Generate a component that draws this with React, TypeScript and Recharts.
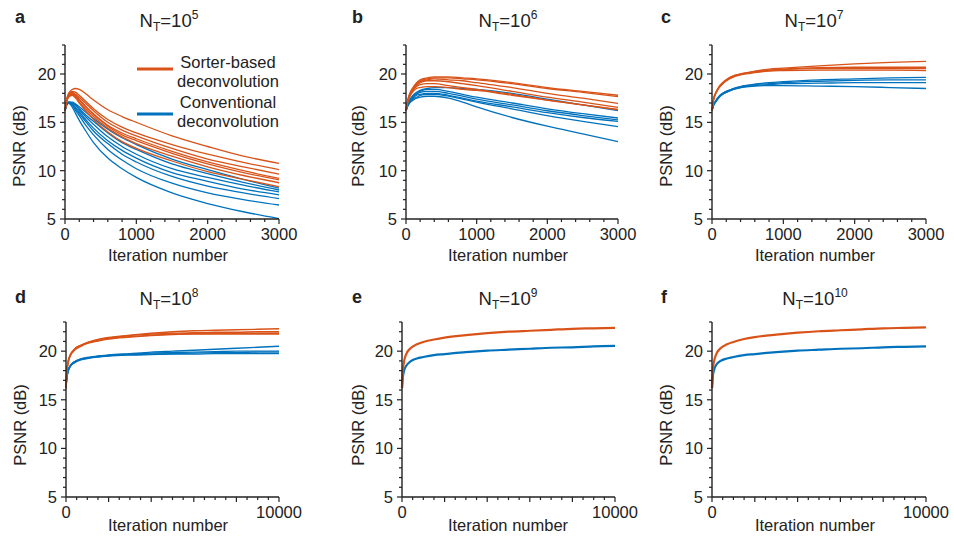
import { Line, LineChart, XAxis, YAxis } from "recharts";

const ORANGE = "#D95319";
const BLUE = "#0072BD";
const INK = "#222";
const FONT = "'Liberation Sans', Arial, sans-serif";

// iteration grids
const itersShort = [0, 25, 50, 100, 150, 200, 300, 400, 600, 800, 1000, 1500, 2000, 2500, 3000];
const itersLong = [0, 25, 50, 100, 200, 400, 700, 1000, 1500, 2000, 3000, 4000, 5000, 6000, 7000, 8000, 9000, 10000];

// tick values
const yTicks = [5, 6, 7, 8, 9, 10, 11, 12, 13, 14, 15, 16, 17, 18, 19, 20, 21, 22, 23];
const yLabels = [5, 10, 15, 20];
const xTicksShort = [0, 200, 400, 600, 800, 1000, 1200, 1400, 1600, 1800, 2000, 2200, 2400, 2600, 2800, 3000];
const xMajorShort = [0, 1000, 2000, 3000];
const xLabelsShort = [0, 1000, 2000, 3000];
const xTicksLong = [0, 500, 1000, 1500, 2000, 2500, 3000, 3500, 4000, 4500, 5000, 5500, 6000, 6500, 7000, 7500, 8000, 8500, 9000, 9500, 10000];
const xMajorLong = [0, 2000, 4000, 6000, 8000, 10000];
const xLabelsLong = [0, 10000];

// a: N_T = 1e5
const aOrange = [
  [16.2, 17.4, 18.0, 18.4, 18.5, 18.4, 17.9, 17.3, 16.3, 15.6, 15.0, 13.6, 12.5, 11.5, 10.75],
  [16.2, 17.4, 17.9, 18.2, 18.1, 17.8, 17.1, 16.4, 15.3, 14.5, 13.9, 12.7, 11.7, 10.85, 10.1],
  [16.2, 17.3, 17.8, 18.1, 17.9, 17.6, 16.9, 16.2, 15.0, 14.2, 13.6, 12.3, 11.2, 10.4, 9.65],
  [16.2, 17.3, 17.8, 18.0, 17.8, 17.4, 16.6, 15.9, 14.7, 13.9, 13.3, 12.0, 10.9, 10.0, 9.2],
  [16.2, 17.3, 17.7, 17.9, 17.7, 17.3, 16.5, 15.8, 14.6, 13.7, 13.1, 11.8, 10.7, 9.8, 9.05],
  [16.2, 17.2, 17.7, 17.9, 17.6, 17.1, 16.3, 15.6, 14.4, 13.5, 12.8, 11.5, 10.4, 9.5, 8.75],
  [16.2, 17.2, 17.6, 17.8, 17.5, 17.0, 16.1, 15.3, 14.0, 13.0, 12.3, 11.0, 9.9, 9.1, 8.35],
];
const aBlue = [
  [16.2, 16.9, 17.1, 17.1, 16.9, 16.6, 16.0, 15.4, 14.3, 13.4, 12.7, 11.2, 10.1, 9.1, 8.2],
  [16.2, 16.9, 17.1, 17.0, 16.8, 16.4, 15.7, 15.1, 13.9, 12.9, 12.2, 10.7, 9.7, 8.8, 8.0],
  [16.2, 16.9, 17.1, 17.0, 16.7, 16.3, 15.5, 14.8, 13.5, 12.5, 11.7, 10.2, 9.3, 8.5, 7.8],
  [16.2, 16.9, 17.0, 16.9, 16.5, 16.1, 15.2, 14.4, 13.1, 12.1, 11.3, 9.8, 8.9, 8.1, 7.5],
  [16.2, 16.9, 17.0, 16.9, 16.4, 15.9, 15.0, 14.1, 12.8, 11.7, 10.9, 9.4, 8.4, 7.7, 7.1],
  [16.2, 16.8, 17.0, 16.8, 16.2, 15.7, 14.6, 13.7, 12.2, 11.1, 10.2, 8.7, 7.7, 7.0, 6.45],
  [16.2, 16.8, 17.0, 16.6, 15.9, 15.2, 14.0, 12.9, 11.3, 10.2, 9.3, 7.7, 6.6, 5.75, 5.05],
];

// b: N_T = 1e6
const bOrange = [
  [16.2, 17.3, 17.9, 18.6, 19.1, 19.4, 19.6, 19.7, 19.7, 19.6, 19.5, 19.1, 18.6, 18.2, 17.8],
  [16.2, 17.3, 17.9, 18.6, 19.0, 19.3, 19.5, 19.6, 19.6, 19.5, 19.4, 19.0, 18.5, 18.1, 17.65],
  [16.2, 17.2, 17.8, 18.5, 18.9, 19.2, 19.4, 19.5, 19.4, 19.3, 19.1, 18.6, 18.0, 17.5, 16.95],
  [16.2, 17.2, 17.8, 18.4, 18.8, 19.1, 19.3, 19.3, 19.2, 19.0, 18.8, 18.2, 17.6, 17.1, 16.55],
  [16.2, 17.2, 17.7, 18.3, 18.7, 18.9, 19.0, 19.0, 18.8, 18.6, 18.4, 17.9, 17.3, 16.8, 16.3],
  [16.2, 17.1, 17.6, 18.2, 18.5, 18.6, 18.7, 18.7, 18.6, 18.4, 18.3, 17.8, 17.3, 16.8, 16.35],
];
const bBlue = [
  [16.2, 16.9, 17.3, 17.8, 18.1, 18.3, 18.5, 18.6, 18.6, 18.5, 18.4, 18.0, 17.4, 16.8, 16.2],
  [16.2, 16.8, 17.2, 17.7, 18.0, 18.2, 18.4, 18.4, 18.2, 17.9, 17.6, 17.0, 16.4, 15.9, 15.45],
  [16.2, 16.8, 17.2, 17.6, 17.9, 18.1, 18.2, 18.2, 18.0, 17.7, 17.4, 16.8, 16.2, 15.7, 15.25],
  [16.2, 16.8, 17.1, 17.5, 17.8, 17.9, 18.0, 18.0, 17.8, 17.5, 17.2, 16.6, 16.0, 15.5, 15.1],
  [16.2, 16.7, 17.0, 17.4, 17.6, 17.8, 17.9, 17.9, 17.7, 17.4, 17.1, 16.4, 15.7, 15.1, 14.55],
  [16.2, 16.7, 17.0, 17.3, 17.5, 17.6, 17.7, 17.7, 17.5, 17.1, 16.6, 15.5, 14.6, 13.8, 13.0],
];

// c: N_T = 1e7
const cOrange = [
  [16.2, 17.5, 18.0, 18.7, 19.1, 19.4, 19.8, 20.0, 20.3, 20.5, 20.6, 20.85, 21.05, 21.2, 21.3],
  [16.2, 17.5, 18.0, 18.7, 19.1, 19.4, 19.8, 20.0, 20.25, 20.4, 20.5, 20.65, 20.7, 20.7, 20.7],
  [16.2, 17.4, 18.0, 18.6, 19.0, 19.3, 19.7, 19.95, 20.2, 20.35, 20.45, 20.55, 20.55, 20.55, 20.55],
  [16.2, 17.4, 17.9, 18.6, 19.0, 19.3, 19.7, 19.9, 20.15, 20.3, 20.35, 20.4, 20.4, 20.4, 20.35],
];
const cBlue = [
  [16.2, 16.9, 17.2, 17.7, 18.0, 18.2, 18.5, 18.7, 18.95, 19.1, 19.2, 19.4, 19.5, 19.6, 19.65],
  [16.2, 16.9, 17.2, 17.7, 18.0, 18.2, 18.5, 18.7, 18.9, 19.0, 19.1, 19.25, 19.35, 19.4, 19.4],
  [16.2, 16.8, 17.1, 17.6, 17.9, 18.1, 18.4, 18.6, 18.8, 18.9, 19.0, 19.05, 19.1, 19.1, 19.1],
  [16.2, 16.8, 17.1, 17.6, 17.9, 18.1, 18.4, 18.6, 18.75, 18.8, 18.8, 18.75, 18.7, 18.6, 18.5],
];

// d: N_T = 1e8
const dOrange = [
  [16.2, 17.5, 18.2, 18.9, 19.6, 20.2, 20.6, 20.9, 21.2, 21.4, 21.65, 21.85, 22.0, 22.1, 22.15, 22.2, 22.25, 22.3],
  [16.2, 17.5, 18.2, 18.9, 19.6, 20.2, 20.6, 20.85, 21.15, 21.35, 21.6, 21.75, 21.85, 21.9, 21.95, 21.95, 22.0, 22.0],
  [16.2, 17.5, 18.2, 18.9, 19.6, 20.2, 20.6, 20.85, 21.1, 21.3, 21.5, 21.65, 21.75, 21.8, 21.85, 21.85, 21.85, 21.85],
  [16.2, 17.4, 18.1, 18.8, 19.5, 20.1, 20.5, 20.8, 21.05, 21.25, 21.45, 21.6, 21.7, 21.75, 21.75, 21.75, 21.75, 21.75],
];
const dBlue = [
  [16.2, 17.0, 17.5, 18.0, 18.5, 18.9, 19.2, 19.35, 19.5, 19.6, 19.75, 19.9, 20.0, 20.1, 20.2, 20.3, 20.4, 20.5],
  [16.2, 17.0, 17.5, 18.0, 18.5, 18.9, 19.2, 19.3, 19.45, 19.55, 19.7, 19.8, 19.85, 19.9, 19.95, 20.0, 20.0, 20.0],
  [16.2, 17.0, 17.5, 18.0, 18.5, 18.9, 19.15, 19.3, 19.45, 19.55, 19.65, 19.7, 19.75, 19.8, 19.85, 19.85, 19.9, 19.9],
  [16.2, 16.9, 17.4, 17.9, 18.4, 18.8, 19.1, 19.25, 19.4, 19.5, 19.6, 19.65, 19.7, 19.7, 19.75, 19.75, 19.75, 19.75],
];

// e: N_T = 1e9
const eOrange = [
  [16.2, 17.5, 18.2, 19.0, 19.7, 20.3, 20.7, 20.95, 21.2, 21.4, 21.65, 21.85, 22.0, 22.1, 22.2, 22.3, 22.35, 22.4],
];
const eBlue = [
  [16.2, 17.0, 17.5, 18.0, 18.5, 18.95, 19.25, 19.4, 19.6, 19.7, 19.9, 20.05, 20.15, 20.25, 20.35, 20.4, 20.5, 20.55],
];

// f: N_T = 1e10
const fOrange = [
  [16.2, 17.5, 18.3, 19.0, 19.7, 20.3, 20.7, 20.95, 21.25, 21.45, 21.7, 21.9, 22.05, 22.15, 22.25, 22.35, 22.4, 22.45],
];
const fBlue = [
  [16.2, 17.0, 17.6, 18.1, 18.6, 19.0, 19.25, 19.4, 19.6, 19.7, 19.9, 20.05, 20.15, 20.25, 20.3, 20.4, 20.45, 20.5],
];

type PanelProps = {
  left: number;
  top: number;
  w: number;
  h: number;
  iters: number[];
  orange: number[][];
  blue: number[][];
  xMax: number;
  xTicks: number[];
  xMajor: number[];
  xLabels: number[];
  lineWidth: number;
};

const Y_W = 60;
const X_H = 40;
const M_TOP = 6;
const M_RIGHT = 30;

function Panel(p: PanelProps) {
  const data = p.iters.map((x, i) => {
    const row: Record<string, number> = { x };
    p.blue.forEach((s, k) => (row[`b${k}`] = s[i]));
    p.orange.forEach((s, k) => (row[`o${k}`] = s[i]));
    return row;
  });

  const xTick = (props: any) => {
    const { x, y, payload } = props;
    const v = payload.value;
    const major = p.xMajor.includes(v);
    return (
      <g>
        <line x1={x} x2={x} y1={y} y2={y + (major ? 5 : 3)} stroke={INK} strokeWidth={1.2} />
        {p.xLabels.includes(v) && (
          <text x={x} y={y + 21} textAnchor="middle" fontSize={16.5} fill={INK} fontFamily={FONT}>
            {v}
          </text>
        )}
      </g>
    );
  };

  const yTick = (props: any) => {
    const { x, y, payload } = props;
    const v = payload.value;
    const major = yLabels.includes(v);
    return (
      <g>
        <line x1={x - (major ? 5 : 3)} x2={x} y1={y} y2={y} stroke={INK} strokeWidth={1.2} />
        {major && (
          <text x={x - 9} y={y} dy="0.36em" textAnchor="end" fontSize={16.5} fill={INK} fontFamily={FONT}>
            {v}
          </text>
        )}
      </g>
    );
  };

  return (
    <div style={{ position: "absolute", left: p.left - Y_W, top: p.top - M_TOP }}>
      <LineChart
        width={Y_W + p.w + M_RIGHT}
        height={M_TOP + p.h + X_H}
        data={data}
        margin={{ top: M_TOP, right: M_RIGHT, left: 0, bottom: 0 }}
        style={{ overflow: "visible" }}
      >
        <XAxis
          dataKey="x"
          type="number"
          domain={[0, p.xMax]}
          ticks={p.xTicks}
          interval={0}
          height={X_H}
          tickSize={0}
          tickMargin={0}
          tickLine={false}
          tick={xTick}
          axisLine={{ stroke: INK, strokeWidth: 1.4 }}
        />
        <YAxis
          type="number"
          domain={[5, 23]}
          ticks={yTicks}
          interval={0}
          width={Y_W}
          tickSize={0}
          tickMargin={0}
          tickLine={false}
          tick={yTick}
          axisLine={{ stroke: INK, strokeWidth: 1.4 }}
        />
        {p.blue.map((_, k) => (
          <Line
            key={`b${k}`}
            dataKey={`b${k}`}
            type="monotone"
            stroke={BLUE}
            strokeWidth={p.lineWidth}
            dot={false}
            activeDot={false}
            isAnimationActive={false}
          />
        ))}
        {p.orange.map((_, k) => (
          <Line
            key={`o${k}`}
            dataKey={`o${k}`}
            type="monotone"
            stroke={ORANGE}
            strokeWidth={p.lineWidth}
            dot={false}
            activeDot={false}
            isAnimationActive={false}
          />
        ))}
      </LineChart>
    </div>
  );
}

const panelTitles = [
  { letter: "a", exp: "5", lx: 15, ly: 23, cx: 169, ty: 27 },
  { letter: "b", exp: "6", lx: 352, ly: 23, cx: 508, ty: 27 },
  { letter: "c", exp: "7", lx: 661, ly: 23, cx: 814, ty: 27 },
  { letter: "d", exp: "8", lx: 15, ly: 303, cx: 169, ty: 305 },
  { letter: "e", exp: "9", lx: 352, ly: 303, cx: 508, ty: 305 },
  { letter: "f", exp: "10", lx: 661, ly: 303, cx: 815, ty: 305 },
];
const yLabelPos = [
  { x: 19, y: 146 },
  { x: 358, y: 146 },
  { x: 666, y: 146 },
  { x: 20, y: 425 },
  { x: 358, y: 425 },
  { x: 666, y: 425 },
];
const xLabelPos = [
  { x: 168, y: 261 },
  { x: 508, y: 261 },
  { x: 815, y: 261 },
  { x: 168, y: 531 },
  { x: 508, y: 531 },
  { x: 815, y: 531 },
];

export default function App() {
  return (
    <div style={{ position: "absolute", left: 0, top: 0, width: 954, height: 542, background: "#fff", fontFamily: FONT }}>
      <Panel left={65} top={45} w={214} h={174} iters={itersShort} orange={aOrange} blue={aBlue} xMax={3000} xTicks={xTicksShort} xMajor={xMajorShort} xLabels={xLabelsShort} lineWidth={1.3} />
      <Panel left={406} top={45} w={212} h={174} iters={itersShort} orange={bOrange} blue={bBlue} xMax={3000} xTicks={xTicksShort} xMajor={xMajorShort} xLabels={xLabelsShort} lineWidth={1.3} />
      <Panel left={712} top={45} w={214} h={174} iters={itersShort} orange={cOrange} blue={cBlue} xMax={3000} xTicks={xTicksShort} xMajor={xMajorShort} xLabels={xLabelsShort} lineWidth={1.3} />
      <Panel left={66} top={322} w={213} h={175} iters={itersLong} orange={dOrange} blue={dBlue} xMax={10000} xTicks={xTicksLong} xMajor={xMajorLong} xLabels={xLabelsLong} lineWidth={1.4} />
      <Panel left={402} top={322} w={213} h={175} iters={itersLong} orange={eOrange} blue={eBlue} xMax={10000} xTicks={xTicksLong} xMajor={xMajorLong} xLabels={xLabelsLong} lineWidth={2.2} />
      <Panel left={712} top={322} w={214} h={175} iters={itersLong} orange={fOrange} blue={fBlue} xMax={10000} xTicks={xTicksLong} xMajor={xMajorLong} xLabels={xLabelsLong} lineWidth={2.2} />

      <svg width={954} height={542} style={{ position: "absolute", left: 0, top: 0, pointerEvents: "none" }} fontFamily={FONT}>
        {panelTitles.map((t) => (
          <g key={t.letter}>
            <text x={t.lx} y={t.ly} fontSize={18} fontWeight="bold" fill={INK}>
              {t.letter}
            </text>
            <text x={t.cx} y={t.ty} textAnchor="middle" fontSize={18.5} fill={INK}>
              N
              <tspan fontSize={12} dy={4}>T</tspan>
              <tspan dy={-4}>=10</tspan>
              <tspan fontSize={12} dy={-8}>{t.exp}</tspan>
            </text>
          </g>
        ))}
        {yLabelPos.map((p, i) => (
          <text key={`yl${i}`} transform={`translate(${p.x},${p.y}) rotate(-90)`} textAnchor="middle" dy="0.36em" fontSize={16.5} fill={INK}>
            PSNR (dB)
          </text>
        ))}
        {xLabelPos.map((p, i) => (
          <text key={`xl${i}`} x={p.x} y={p.y} textAnchor="middle" fontSize={16.5} fill={INK}>
            Iteration number
          </text>
        ))}
        <line x1={137} x2={173} y1={69} y2={69} stroke={ORANGE} strokeWidth={3} />
        <text x={228} y={68} textAnchor="middle" fontSize={16.5} fill={INK}>Sorter-based</text>
        <text x={228} y={87} textAnchor="middle" fontSize={16.5} fill={INK}>deconvolution</text>
        <line x1={137} x2={173} y1={114} y2={114} stroke={BLUE} strokeWidth={3} />
        <text x={228} y={108} textAnchor="middle" fontSize={16.5} fill={INK}>Conventional</text>
        <text x={228} y={127} textAnchor="middle" fontSize={16.5} fill={INK}>deconvolution</text>
      </svg>
    </div>
  );
}
